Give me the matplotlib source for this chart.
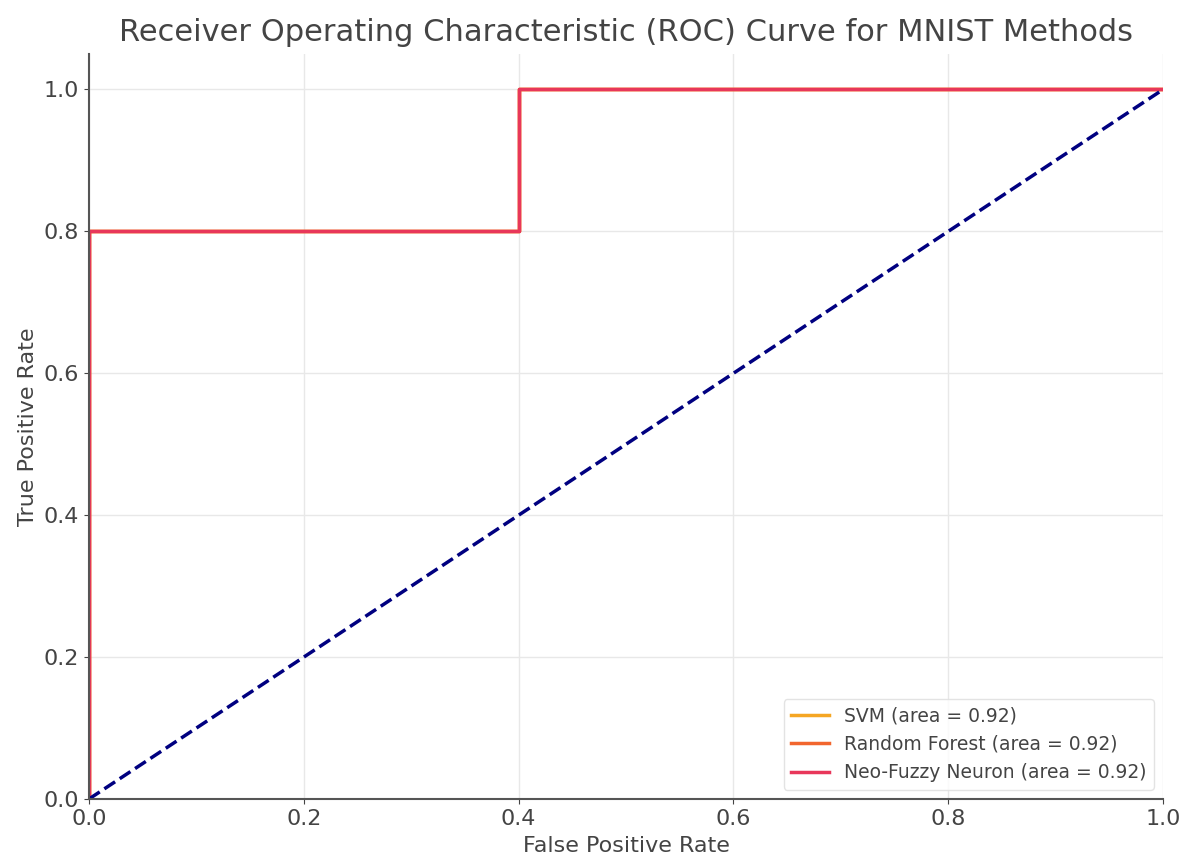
import matplotlib
matplotlib.use("Agg")
import matplotlib.pyplot as plt

# ROC points (all three methods give the same curve)
fpr = [0.0, 0.0, 0.4, 0.4, 1.0]
tpr = [0.0, 0.8, 0.8, 1.0, 1.0]
methods = ["SVM", "Random Forest", "Neo-Fuzzy Neuron"]
areas = [0.92, 0.92, 0.92]
colors = ["#f5a623", "#f2662e", "#e8375a"]

plt.rcParams["text.color"] = "#444444"
plt.rcParams["axes.labelcolor"] = "#444444"
plt.rcParams["xtick.color"] = "#444444"
plt.rcParams["ytick.color"] = "#444444"

fig = plt.figure(figsize=(11.82, 8.57), dpi=100)
ax = fig.add_axes([0.0753, 0.0677, 0.9087, 0.8693])

for name, area, c in zip(methods, areas, colors):
    ax.plot(fpr, tpr, color=c, lw=2.5, label=f"{name} (area = {area:.2f})")
ax.plot([0, 1], [0, 1], color="navy", lw=2.5, linestyle="--")

ax.set_xlim(0.0, 1.0)
ax.set_ylim(0.0, 1.05)
ax.set_xlabel("False Positive Rate", fontsize=16, labelpad=5)
ax.set_ylabel("True Positive Rate", fontsize=16, labelpad=4)
ax.set_title("Receiver Operating Characteristic (ROC) Curve for MNIST Methods",
             fontsize=22, pad=9)
ax.tick_params(labelsize=16)
ax.grid(True, color="#e8e8e8", lw=1)
for s in ["top", "right"]:
    ax.spines[s].set_visible(False)
for s in ["left", "bottom"]:
    ax.spines[s].set_color("#555555")
    ax.spines[s].set_linewidth(1.5)
ax.legend(loc="lower right", fontsize=13.5, frameon=True, edgecolor="#dddddd",
          borderaxespad=0.5)

fig.savefig("out.png", dpi=100)
